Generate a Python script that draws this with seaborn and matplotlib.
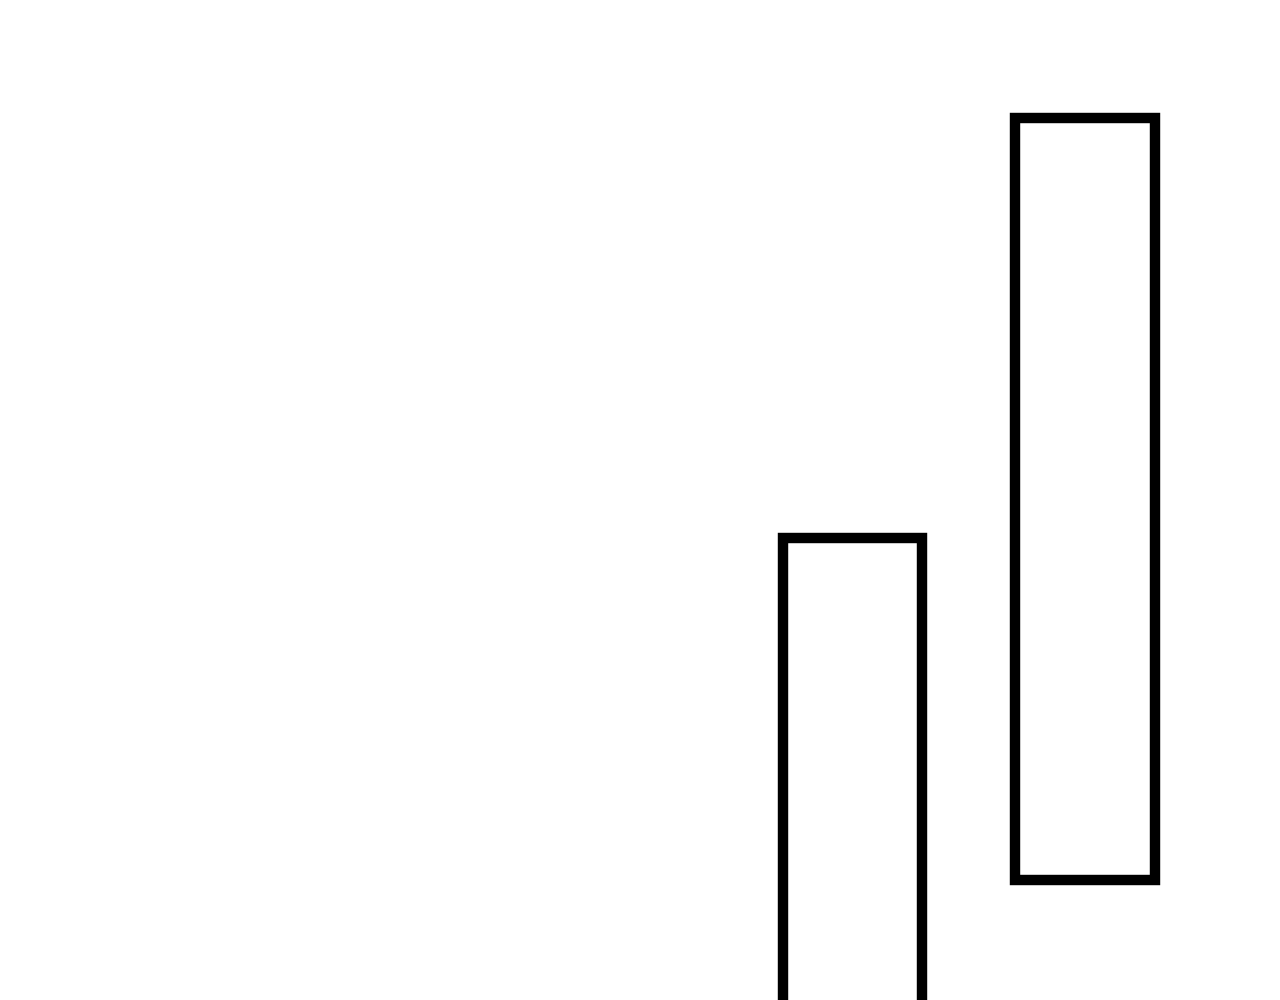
import pandas as pd
import seaborn as sns
import matplotlib.pyplot as plt

# floating bars: each bar spans from its low value to its high value
categories = ["A", "B"]
lows = [-10.0, 12.0]
highs = [46.2, 88.2]

df = pd.DataFrame({"category": categories, "low": lows, "high": highs})
df["span"] = df["high"] - df["low"]

sns.set_style("white")

fig = plt.figure(figsize=(12.8, 10), dpi=100)
ax = fig.add_axes([0, 0, 1, 1])

sns.barplot(x="category", y="span", data=df, bottom=df["low"], ax=ax,
            color="white", edgecolor="black", linewidth=7.5, width=0.6,
            errorbar=None)

# only the right part of the chart is visible, no axes shown
ax.set_xlim(-3.667, 1.839)
ax.set_ylim(0, 100)
ax.axis("off")

fig.savefig("out.png", dpi=100, facecolor="white")
